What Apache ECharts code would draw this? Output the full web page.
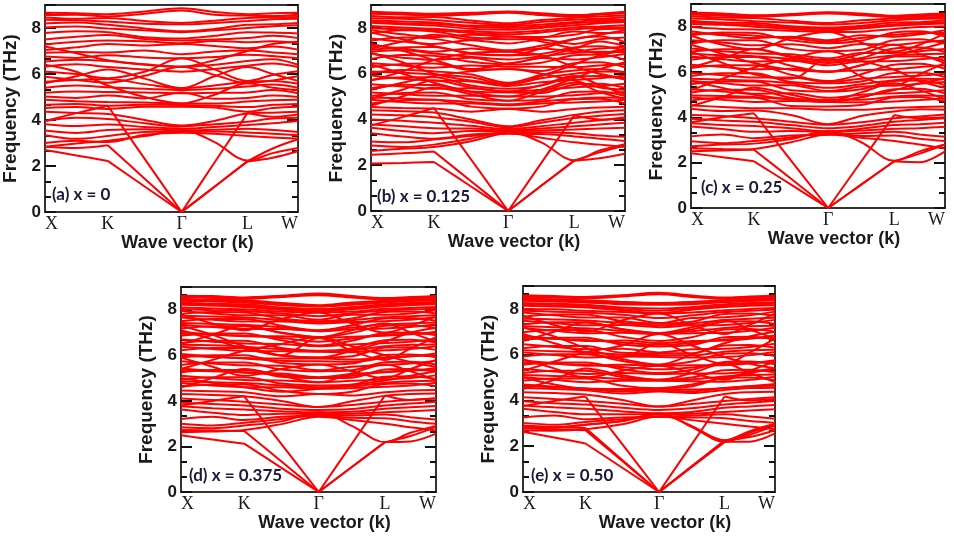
<!DOCTYPE html>
<html>
<head>
<meta charset="utf-8">
<script src="https://cdn.jsdelivr.net/npm/echarts@6/dist/echarts.min.js"></script>
<style>
  html, body { margin: 0; padding: 0; background: #fff; }
  #chart { width: 954px; height: 545px; }
</style>
</head>
<body>
<div id="chart"></div>
<script>
// k-path sample points: X, X-K, K, K-G, G, G-L, L, L-W, W
const kPath = [0, 0.124, 0.248, 0.394, 0.54, 0.67, 0.80, 0.90, 1.0];
// indices of the four path segments X-K, K-G, G-L, L-W
const pathSegments = [[0, 1, 2], [2, 3, 4], [4, 5, 6], [6, 7, 8]];
const kTickPos = [0, 0.248, 0.54, 0.80, 1.0];
const kTickLabels = ['X', 'K', 'Γ', 'L', 'W'];
const panelLabels = ['(a) x = 0', '(b) x = 0.125', '(c) x = 0.25', '(d) x = 0.375', '(e) x = 0.50'];

// phonon branches (THz)
const bandsA = [
  [8.66, 8.64, 8.60, 8.72, 8.86, 8.70, 8.60, 8.64, 8.66],
  [8.56, 8.58, 8.50, 8.62, 8.76, 8.58, 8.54, 8.52, 8.58],
  [8.46, 8.40, 8.44, 8.30, 8.22, 8.32, 8.44, 8.46, 8.48],
  [8.36, 8.34, 8.28, 8.18, 8.16, 8.22, 8.30, 8.38, 8.40],
  [8.20, 8.24, 8.14, 7.98, 7.86, 7.96, 8.14, 8.16, 8.22],
  [8.02, 8.06, 7.98, 7.90, 7.82, 7.90, 8.00, 8.08, 8.12],
  [7.78, 7.86, 7.82, 7.60, 7.54, 7.66, 7.82, 7.80, 7.76],
  [7.50, 7.62, 7.70, 7.52, 7.46, 7.50, 7.56, 7.66, 7.56],
  [7.28, 7.40, 7.46, 7.42, 7.34, 7.44, 7.38, 7.42, 7.34],
  [7.04, 7.16, 7.30, 7.24, 7.30, 7.22, 7.12, 7.20, 7.06],
  [6.92, 6.96, 6.94, 7.02, 6.86, 6.98, 7.02, 6.94, 6.86],
  [6.76, 6.70, 6.82, 6.72, 6.68, 6.74, 6.84, 6.78, 6.68],
  [6.54, 6.62, 6.56, 6.42, 6.32, 6.40, 6.56, 6.64, 6.40],
  [6.32, 6.42, 6.30, 6.20, 6.10, 6.22, 6.36, 6.46, 6.30],
  [6.10, 6.00, 5.82, 6.10, 6.68, 6.20, 5.70, 5.96, 6.12],
  [5.88, 5.74, 5.62, 5.92, 6.32, 5.96, 5.60, 5.72, 5.90],
  [5.66, 5.74, 5.78, 5.56, 5.38, 5.50, 5.66, 5.70, 5.58],
  [5.40, 5.50, 5.42, 5.36, 5.30, 5.36, 5.46, 5.54, 5.40],
  [5.18, 5.24, 5.22, 5.20, 5.16, 5.18, 5.20, 5.30, 5.16],
  [5.02, 4.96, 5.06, 4.94, 5.20, 4.92, 4.96, 5.06, 5.00],
  [4.88, 4.82, 4.78, 4.76, 4.72, 4.72, 4.80, 4.86, 4.88],
  [4.66, 4.70, 4.62, 4.66, 4.65, 4.62, 4.56, 4.66, 4.70],
  [4.52, 4.56, 4.48, 4.58, 4.58, 4.54, 4.36, 4.52, 4.58],
  [4.36, 4.30, 4.26, 4.00, 3.76, 3.96, 4.28, 4.32, 4.36],
  [7.20, 6.90, 6.60, 6.40, 6.32, 6.60, 7.00, 7.30, 7.40],
  [5.60, 5.90, 6.20, 5.80, 5.38, 5.90, 6.30, 6.00, 5.70],
  [6.40, 6.10, 5.50, 5.00, 4.72, 5.10, 5.60, 5.40, 5.30],
  [3.96, 4.10, 4.04, 3.86, 3.72, 3.82, 3.92, 4.06, 4.10],
  [3.82, 3.74, 3.80, 3.70, 3.62, 3.70, 3.78, 3.86, 3.96],
  [3.54, 3.44, 3.56, 3.60, 3.55, 3.58, 3.62, 3.56, 3.48],
  [3.34, 3.18, 3.30, 3.48, 3.50, 3.50, 3.46, 3.40, 3.34],
  [3.00, 3.10, 3.04, 3.36, 3.45, 3.40, 3.30, 3.24, 3.20],
  [2.84, 2.98, 3.10, 3.30, 3.56, 3.04, 2.24, 2.56, 2.78],
  [2.70, 2.46, 2.22, 1.11, 0.00, 1.10, 2.20, 2.36, 2.64],
  [2.84, 2.78, 2.90, 1.45, 0.00, 1.10, 2.20, 2.76, 3.16],
  [3.96, 4.30, 4.62, 2.31, 0.00, 2.15, 4.30, 4.14, 4.24]
];

const bandsB = [
  [8.70, 8.66, 8.62, 8.66, 8.72, 8.64, 8.56, 8.62, 8.70],
  [8.66, 8.62, 8.58, 8.62, 8.69, 8.60, 8.53, 8.60, 8.67],
  [8.62, 8.58, 8.54, 8.58, 8.66, 8.56, 8.50, 8.58, 8.64],
  [8.52, 8.46, 8.48, 8.32, 8.20, 8.34, 8.44, 8.50, 8.54],
  [8.42, 8.40, 8.34, 8.22, 8.14, 8.26, 8.36, 8.40, 8.46],
  [8.32, 8.28, 8.24, 8.10, 8.08, 8.14, 8.26, 8.34, 8.36],
  [8.28, 8.20, 8.18, 8.05, 8.00, 8.06, 8.20, 8.26, 8.30],
  [8.22, 8.16, 8.10, 7.96, 7.92, 8.00, 8.12, 8.20, 8.26],
  [8.08, 8.02, 7.96, 7.86, 7.80, 7.88, 8.02, 8.06, 8.12],
  [7.98, 7.94, 7.90, 7.78, 7.72, 7.80, 7.94, 8.00, 8.02],
  [7.90, 7.72, 7.60, 7.70, 7.62, 7.60, 7.70, 7.94, 7.96],
  [7.76, 7.90, 7.84, 7.58, 7.50, 7.56, 7.84, 7.78, 7.80],
  [7.54, 7.40, 7.30, 7.46, 7.32, 7.48, 7.30, 7.50, 7.58],
  [7.44, 7.58, 7.52, 7.24, 7.02, 7.22, 7.52, 7.62, 7.38],
  [7.22, 7.10, 6.96, 7.10, 6.96, 7.10, 6.98, 7.10, 7.18],
  [7.04, 7.14, 7.16, 6.86, 6.80, 6.86, 7.14, 7.20, 7.00],
  [6.96, 7.02, 6.88, 6.74, 6.62, 6.76, 6.90, 6.96, 6.94],
  [6.88, 6.70, 6.60, 6.70, 6.44, 6.68, 6.62, 6.72, 6.86],
  [6.64, 6.82, 6.78, 6.52, 6.40, 6.48, 6.80, 6.84, 6.60],
  [6.46, 6.36, 6.26, 6.36, 6.30, 6.30, 6.28, 6.36, 6.42],
  [6.28, 6.42, 6.44, 6.16, 6.20, 6.12, 6.46, 6.50, 6.28],
  [6.10, 6.04, 5.96, 5.84, 5.54, 5.80, 6.00, 6.10, 6.08],
  [6.02, 6.16, 6.10, 5.96, 5.60, 5.94, 6.14, 6.20, 6.04],
  [5.92, 5.78, 5.70, 5.66, 5.46, 5.62, 5.72, 5.80, 5.92],
  [5.72, 5.84, 5.84, 5.48, 5.34, 5.48, 5.86, 5.90, 5.74],
  [5.54, 5.44, 5.34, 5.36, 5.22, 5.30, 5.40, 5.46, 5.56],
  [5.36, 5.52, 5.50, 5.22, 5.18, 5.16, 5.52, 5.56, 5.38],
  [5.18, 5.10, 5.04, 5.04, 5.00, 5.00, 5.06, 5.14, 5.20],
  [5.02, 5.16, 5.18, 4.88, 4.82, 4.86, 5.20, 5.22, 5.02],
  [4.96, 4.92, 4.86, 4.76, 4.66, 4.78, 4.90, 4.96, 4.94],
  [4.86, 4.76, 4.70, 4.70, 4.62, 4.70, 4.74, 4.78, 4.86],
  [4.70, 4.84, 4.86, 4.56, 4.48, 4.56, 4.88, 4.90, 4.70],
  [4.54, 4.50, 4.48, 4.34, 4.46, 4.34, 4.46, 4.52, 4.56],
  [4.40, 4.36, 4.30, 4.00, 3.70, 3.96, 4.20, 4.34, 4.40],
  [4.22, 4.18, 4.10, 3.90, 3.66, 3.86, 4.06, 4.16, 4.24],
  [7.30, 7.00, 6.60, 6.20, 6.44, 6.70, 7.10, 7.40, 7.20],
  [5.30, 5.60, 5.90, 6.10, 6.20, 6.00, 5.70, 5.40, 5.30],
  [4.60, 5.00, 5.40, 5.10, 4.82, 5.20, 5.60, 5.20, 4.90],
  [6.90, 6.50, 6.00, 5.70, 5.54, 5.90, 6.40, 6.80, 7.00],
  [5.70, 6.10, 6.60, 6.90, 6.96, 6.80, 6.30, 6.00, 5.80],
  [7.80, 7.50, 7.20, 6.90, 6.80, 7.10, 7.50, 7.70, 7.90],
  [4.90, 5.30, 5.70, 5.40, 5.22, 5.50, 5.90, 5.50, 5.10],
  [6.40, 6.00, 5.60, 5.20, 5.00, 5.30, 5.80, 6.20, 6.50],
  [7.10, 7.40, 7.70, 7.50, 7.62, 7.40, 7.10, 6.90, 7.10],
  [4.00, 3.94, 3.86, 3.72, 3.58, 3.70, 3.86, 3.96, 4.04],
  [3.78, 3.70, 3.62, 3.60, 3.52, 3.60, 3.70, 3.78, 3.86],
  [3.64, 3.50, 3.40, 3.50, 3.48, 3.52, 3.56, 3.60, 3.64],
  [3.40, 3.26, 3.16, 3.34, 3.42, 3.44, 3.40, 3.30, 3.24],
  [3.04, 3.00, 3.12, 3.28, 3.38, 3.36, 3.26, 3.16, 3.06],
  [2.86, 2.80, 2.90, 3.16, 3.46, 3.00, 2.22, 2.64, 2.92],
  [2.62, 2.72, 2.80, 3.05, 3.40, 3.20, 3.00, 2.90, 2.80],
  [2.08, 2.10, 2.14, 1.07, 0.00, 1.10, 2.20, 2.30, 2.50],
  [2.46, 2.52, 2.60, 1.30, 0.00, 1.10, 2.20, 2.56, 2.86],
  [3.74, 4.10, 4.50, 2.25, 0.00, 2.09, 4.18, 4.00, 4.10]
];

const bandsC = [
  [8.62, 8.58, 8.50, 8.56, 8.64, 8.58, 8.48, 8.54, 8.58],
  [8.58, 8.54, 8.48, 8.52, 8.61, 8.54, 8.45, 8.50, 8.55],
  [8.54, 8.48, 8.44, 8.50, 8.58, 8.50, 8.42, 8.46, 8.52],
  [8.46, 8.40, 8.38, 8.26, 8.16, 8.28, 8.36, 8.40, 8.44],
  [8.36, 8.32, 8.24, 8.18, 8.10, 8.16, 8.28, 8.34, 8.36],
  [8.26, 8.18, 8.16, 8.02, 7.96, 8.04, 8.18, 8.20, 8.28],
  [8.19, 8.12, 8.08, 7.96, 7.90, 7.98, 8.10, 8.15, 8.20],
  [8.12, 8.08, 8.00, 7.90, 7.82, 7.92, 8.04, 8.10, 8.14],
  [7.98, 7.90, 7.88, 7.82, 7.76, 7.78, 7.90, 7.98, 8.02],
  [7.80, 7.62, 7.50, 7.56, 7.40, 7.62, 7.56, 7.66, 7.84],
  [7.70, 7.68, 7.60, 7.50, 7.34, 7.50, 7.64, 7.72, 7.72],
  [7.62, 7.74, 7.72, 7.40, 7.27, 7.38, 7.74, 7.80, 7.56],
  [7.40, 7.30, 7.18, 7.22, 7.05, 7.24, 7.20, 7.30, 7.40],
  [7.26, 7.40, 7.40, 7.02, 6.92, 6.98, 7.40, 7.44, 7.24],
  [7.04, 6.92, 6.82, 6.78, 6.60, 6.84, 6.84, 6.92, 7.02],
  [6.90, 7.00, 7.02, 6.66, 6.50, 6.62, 7.04, 7.08, 6.88],
  [6.80, 6.74, 6.70, 6.58, 6.40, 6.56, 6.74, 6.78, 6.80],
  [6.68, 6.56, 6.46, 6.50, 6.30, 6.46, 6.48, 6.56, 6.64],
  [6.54, 6.66, 6.66, 6.28, 6.00, 6.30, 6.68, 6.70, 6.50],
  [6.32, 6.22, 6.12, 6.14, 6.02, 6.08, 6.12, 6.22, 6.30],
  [6.18, 6.30, 6.30, 5.88, 5.60, 5.90, 6.32, 6.36, 6.14],
  [5.96, 5.86, 5.76, 5.76, 5.56, 5.70, 5.78, 5.84, 5.92],
  [5.82, 5.94, 5.94, 5.56, 5.50, 5.58, 5.96, 5.98, 5.78],
  [5.70, 5.66, 5.62, 5.50, 5.30, 5.46, 5.64, 5.70, 5.68],
  [5.60, 5.50, 5.40, 5.42, 5.16, 5.36, 5.40, 5.48, 5.56],
  [5.46, 5.58, 5.58, 5.20, 5.14, 5.24, 5.60, 5.62, 5.42],
  [5.24, 5.14, 5.04, 5.06, 4.86, 5.00, 5.06, 5.12, 5.20],
  [5.10, 5.22, 5.22, 4.86, 4.72, 4.88, 5.24, 5.26, 5.06],
  [4.96, 4.94, 4.90, 4.80, 4.78, 4.78, 4.92, 4.96, 4.94],
  [4.88, 4.78, 4.68, 4.72, 4.68, 4.66, 4.70, 4.76, 4.84],
  [4.74, 4.86, 4.86, 4.50, 4.48, 4.54, 4.88, 4.90, 4.70],
  [4.52, 4.46, 4.40, 4.40, 4.34, 4.34, 4.42, 4.46, 4.48],
  [4.38, 4.28, 4.30, 4.10, 3.70, 4.06, 4.26, 4.36, 4.34],
  [6.90, 6.40, 5.90, 5.70, 6.60, 5.80, 5.40, 5.90, 6.40],
  [5.20, 5.70, 6.20, 6.60, 6.92, 6.50, 6.10, 5.60, 5.30],
  [4.50, 4.90, 5.30, 5.00, 4.72, 5.10, 5.50, 5.20, 4.80],
  [7.60, 7.20, 7.00, 7.50, 7.76, 7.30, 6.90, 7.20, 7.70],
  [6.20, 6.60, 7.00, 6.70, 6.50, 6.80, 7.20, 6.80, 6.40],
  [7.20, 6.80, 6.40, 6.10, 6.02, 6.30, 6.70, 7.00, 7.30],
  [5.60, 5.30, 5.00, 4.80, 4.68, 4.90, 5.20, 5.50, 5.70],
  [4.10, 4.06, 3.96, 3.80, 3.67, 3.78, 3.96, 4.04, 4.12],
  [3.94, 3.86, 3.80, 3.66, 3.52, 3.62, 3.80, 3.88, 3.96],
  [3.74, 3.66, 3.62, 3.52, 3.38, 3.50, 3.66, 3.70, 3.76],
  [3.60, 3.48, 3.36, 3.40, 3.36, 3.42, 3.50, 3.52, 3.58],
  [3.16, 3.24, 3.08, 3.20, 3.23, 3.30, 3.36, 3.24, 3.14],
  [2.94, 2.86, 2.96, 3.12, 3.30, 3.18, 3.20, 3.06, 2.96],
  [2.72, 2.80, 2.84, 3.04, 3.40, 2.90, 2.08, 2.50, 2.80],
  [2.50, 2.54, 2.60, 2.90, 3.24, 3.10, 2.96, 2.80, 2.62],
  [2.42, 2.24, 2.06, 1.03, 0.00, 1.03, 2.06, 2.02, 2.50],
  [2.64, 2.60, 2.57, 1.29, 0.00, 1.03, 2.06, 2.40, 2.80],
  [3.78, 4.00, 4.18, 2.09, 0.00, 2.05, 4.10, 3.96, 4.00]
];

const bandsD = [
  [8.62, 8.60, 8.54, 8.62, 8.72, 8.60, 8.52, 8.56, 8.60],
  [8.59, 8.56, 8.51, 8.59, 8.68, 8.57, 8.49, 8.53, 8.57],
  [8.56, 8.52, 8.48, 8.56, 8.64, 8.54, 8.46, 8.50, 8.54],
  [8.48, 8.44, 8.42, 8.30, 8.20, 8.32, 8.40, 8.44, 8.48],
  [8.44, 8.40, 8.37, 8.25, 8.17, 8.27, 8.36, 8.41, 8.45],
  [8.40, 8.36, 8.32, 8.20, 8.14, 8.22, 8.32, 8.38, 8.42],
  [8.32, 8.26, 8.24, 8.10, 8.04, 8.12, 8.24, 8.30, 8.34],
  [8.27, 8.22, 8.18, 8.05, 7.98, 8.07, 8.19, 8.25, 8.29],
  [8.22, 8.18, 8.12, 8.00, 7.92, 8.02, 8.14, 8.20, 8.24],
  [8.10, 8.06, 8.02, 7.92, 7.88, 7.92, 8.04, 8.08, 8.12],
  [8.03, 7.98, 7.95, 7.84, 7.72, 7.85, 7.97, 8.01, 8.05],
  [7.96, 7.84, 7.76, 7.76, 7.56, 7.78, 7.78, 7.84, 7.98],
  [7.82, 7.90, 7.88, 7.62, 7.50, 7.62, 7.90, 7.92, 7.84],
  [7.74, 7.70, 7.66, 7.55, 7.45, 7.54, 7.67, 7.72, 7.76],
  [7.66, 7.56, 7.48, 7.48, 7.40, 7.46, 7.50, 7.56, 7.68],
  [7.50, 7.60, 7.60, 7.30, 7.10, 7.32, 7.62, 7.64, 7.52],
  [7.42, 7.38, 7.34, 7.23, 7.08, 7.22, 7.36, 7.40, 7.44],
  [7.34, 7.24, 7.16, 7.16, 7.06, 7.14, 7.18, 7.24, 7.36],
  [7.18, 7.28, 7.28, 6.98, 6.80, 6.98, 7.30, 7.32, 7.20],
  [7.02, 6.92, 6.84, 6.84, 6.76, 6.82, 6.86, 6.92, 7.04],
  [6.94, 6.90, 6.86, 6.76, 6.60, 6.74, 6.90, 6.94, 6.96],
  [6.86, 6.96, 6.96, 6.66, 6.43, 6.64, 6.98, 7.00, 6.88],
  [6.70, 6.60, 6.52, 6.50, 6.40, 6.48, 6.54, 6.60, 6.72],
  [6.54, 6.64, 6.64, 6.32, 6.20, 6.30, 6.66, 6.68, 6.56],
  [6.46, 6.44, 6.38, 6.26, 6.18, 6.22, 6.40, 6.46, 6.48],
  [6.38, 6.28, 6.20, 6.18, 6.16, 6.14, 6.22, 6.28, 6.40],
  [6.22, 6.32, 6.32, 5.98, 5.90, 5.96, 6.34, 6.36, 6.24],
  [6.06, 5.96, 5.88, 5.86, 5.86, 5.82, 5.90, 5.96, 6.08],
  [5.98, 5.92, 5.86, 5.76, 5.74, 5.72, 5.88, 5.96, 6.00],
  [5.90, 6.00, 6.00, 5.66, 5.60, 5.64, 6.02, 6.04, 5.92],
  [5.74, 5.64, 5.56, 5.54, 5.34, 5.50, 5.58, 5.64, 5.76],
  [5.58, 5.68, 5.68, 5.38, 5.30, 5.34, 5.70, 5.72, 5.60],
  [5.42, 5.32, 5.24, 5.20, 5.04, 5.18, 5.26, 5.32, 5.44],
  [5.34, 5.30, 5.26, 5.14, 5.02, 5.10, 5.28, 5.34, 5.36],
  [5.26, 5.36, 5.36, 5.06, 5.00, 5.02, 5.38, 5.40, 5.28],
  [5.10, 5.00, 4.92, 4.90, 4.82, 4.88, 4.94, 5.00, 5.12],
  [4.94, 5.04, 5.04, 4.76, 4.68, 4.72, 5.06, 5.08, 4.96],
  [4.86, 4.82, 4.78, 4.68, 4.60, 4.64, 4.80, 4.86, 4.88],
  [4.78, 4.68, 4.60, 4.60, 4.53, 4.56, 4.62, 4.68, 4.80],
  [4.62, 4.72, 4.72, 4.44, 4.30, 4.40, 4.74, 4.76, 4.64],
  [4.46, 4.42, 4.38, 4.20, 4.30, 4.24, 4.38, 4.46, 4.48],
  [4.30, 4.26, 4.20, 4.00, 3.73, 3.98, 4.22, 4.30, 4.32],
  [7.30, 6.90, 6.40, 6.00, 6.76, 6.20, 5.80, 6.30, 6.80],
  [5.40, 5.80, 6.20, 6.50, 6.80, 6.40, 6.00, 5.70, 5.50],
  [4.60, 5.00, 5.40, 5.10, 4.82, 5.20, 5.60, 5.30, 4.90],
  [7.80, 7.40, 7.10, 7.60, 7.88, 7.40, 7.00, 7.30, 7.70],
  [5.00, 4.80, 4.60, 4.40, 4.53, 4.70, 4.90, 5.10, 5.30],
  [6.50, 6.90, 7.30, 7.00, 6.80, 7.10, 7.40, 7.00, 6.60],
  [7.10, 6.70, 6.30, 6.00, 5.90, 6.20, 6.60, 7.00, 7.20],
  [5.90, 5.50, 5.10, 5.40, 5.60, 5.30, 5.00, 5.40, 5.80],
  [4.10, 4.04, 3.96, 3.84, 3.73, 3.82, 3.96, 4.04, 4.12],
  [3.92, 3.86, 3.80, 3.66, 3.60, 3.64, 3.80, 3.88, 3.96],
  [3.76, 3.68, 3.62, 3.54, 3.50, 3.52, 3.66, 3.72, 3.78],
  [3.62, 3.48, 3.38, 3.44, 3.42, 3.44, 3.50, 3.54, 3.60],
  [3.20, 3.30, 3.16, 3.30, 3.36, 3.36, 3.40, 3.28, 3.18],
  [3.00, 2.92, 3.04, 3.20, 3.36, 3.26, 3.24, 3.10, 3.00],
  [2.84, 2.80, 2.92, 3.10, 3.50, 2.90, 2.19, 2.60, 2.90],
  [2.62, 2.66, 2.72, 2.98, 3.30, 3.16, 3.00, 2.84, 2.70],
  [2.49, 2.30, 2.12, 1.06, 0.00, 1.10, 2.19, 2.22, 2.56],
  [2.72, 2.70, 2.68, 1.34, 0.00, 1.10, 2.19, 2.46, 2.86],
  [3.80, 4.00, 4.20, 2.10, 0.00, 2.12, 4.24, 4.04, 4.10]
];

const bandsE = [
  [8.60, 8.56, 8.52, 8.60, 8.70, 8.58, 8.50, 8.54, 8.58],
  [8.56, 8.53, 8.49, 8.57, 8.67, 8.55, 8.47, 8.51, 8.55],
  [8.52, 8.50, 8.46, 8.54, 8.64, 8.52, 8.44, 8.48, 8.52],
  [8.44, 8.42, 8.38, 8.30, 8.26, 8.30, 8.38, 8.42, 8.46],
  [8.40, 8.37, 8.33, 8.25, 8.22, 8.25, 8.34, 8.38, 8.42],
  [8.36, 8.32, 8.28, 8.20, 8.18, 8.20, 8.30, 8.34, 8.38],
  [8.26, 8.22, 8.18, 8.06, 8.02, 8.08, 8.20, 8.26, 8.28],
  [8.20, 8.16, 8.12, 8.00, 7.92, 8.02, 8.14, 8.20, 8.22],
  [8.14, 8.10, 8.06, 7.94, 7.82, 7.96, 8.08, 8.14, 8.16],
  [8.00, 7.98, 7.92, 7.86, 7.80, 7.84, 7.94, 8.00, 8.04],
  [7.92, 7.88, 7.84, 7.74, 7.60, 7.72, 7.86, 7.92, 7.96],
  [7.84, 7.72, 7.62, 7.62, 7.38, 7.60, 7.64, 7.72, 7.88],
  [7.66, 7.76, 7.76, 7.46, 7.36, 7.44, 7.78, 7.80, 7.70],
  [7.57, 7.54, 7.49, 7.38, 7.28, 7.36, 7.51, 7.57, 7.61],
  [7.48, 7.38, 7.28, 7.30, 7.20, 7.28, 7.30, 7.38, 7.52],
  [7.32, 7.42, 7.42, 7.12, 6.94, 7.10, 7.44, 7.46, 7.34],
  [7.24, 7.20, 7.15, 7.04, 6.92, 7.02, 7.17, 7.24, 7.26],
  [7.16, 7.04, 6.94, 6.96, 6.90, 6.94, 6.96, 7.04, 7.18],
  [6.98, 7.08, 7.08, 6.78, 6.60, 6.76, 7.10, 7.12, 7.00],
  [6.82, 6.70, 6.60, 6.62, 6.50, 6.60, 6.62, 6.70, 6.84],
  [6.73, 6.69, 6.64, 6.53, 6.43, 6.51, 6.66, 6.73, 6.75],
  [6.64, 6.74, 6.74, 6.44, 6.36, 6.42, 6.76, 6.78, 6.66],
  [6.46, 6.34, 6.24, 6.26, 6.10, 6.24, 6.26, 6.34, 6.48],
  [6.28, 6.38, 6.38, 6.08, 6.06, 6.06, 6.40, 6.42, 6.30],
  [6.19, 6.15, 6.11, 6.00, 5.98, 5.97, 6.13, 6.19, 6.21],
  [6.10, 5.98, 5.88, 5.92, 5.90, 5.88, 5.90, 5.98, 6.12],
  [5.92, 6.02, 6.02, 5.72, 5.56, 5.70, 6.04, 6.06, 5.94],
  [5.74, 5.62, 5.52, 5.56, 5.52, 5.54, 5.54, 5.62, 5.76],
  [5.65, 5.60, 5.56, 5.46, 5.36, 5.44, 5.59, 5.65, 5.67],
  [5.56, 5.66, 5.66, 5.36, 5.20, 5.34, 5.68, 5.70, 5.58],
  [5.38, 5.26, 5.16, 5.20, 5.16, 5.18, 5.18, 5.26, 5.40],
  [5.20, 5.30, 5.30, 5.02, 4.90, 5.00, 5.32, 5.34, 5.22],
  [5.11, 5.07, 5.02, 4.94, 4.88, 4.92, 5.05, 5.11, 5.13],
  [5.02, 4.90, 4.80, 4.86, 4.86, 4.84, 4.82, 4.90, 5.04],
  [4.86, 4.96, 4.96, 4.64, 4.53, 4.62, 4.98, 5.00, 4.88],
  [4.70, 4.60, 4.52, 4.50, 4.50, 4.48, 4.54, 4.62, 4.72],
  [4.62, 4.58, 4.52, 4.40, 4.45, 4.40, 4.54, 4.62, 4.64],
  [4.54, 4.50, 4.44, 4.30, 4.39, 4.32, 4.46, 4.54, 4.56],
  [4.36, 4.32, 4.26, 4.02, 3.73, 4.00, 4.28, 4.36, 4.38],
  [7.20, 6.80, 6.30, 5.90, 6.50, 6.00, 5.60, 6.10, 6.70],
  [5.30, 5.70, 6.10, 6.40, 6.90, 6.40, 5.90, 5.60, 5.40],
  [4.50, 4.90, 5.40, 5.10, 4.90, 5.20, 5.60, 5.20, 4.80],
  [7.70, 7.30, 7.00, 7.50, 7.80, 7.30, 6.90, 7.30, 7.80],
  [5.00, 4.70, 4.50, 4.40, 4.53, 4.70, 5.00, 5.20, 5.40],
  [6.60, 7.00, 7.40, 7.10, 6.94, 7.20, 7.50, 7.10, 6.70],
  [6.90, 6.50, 6.10, 5.80, 5.56, 6.00, 6.50, 6.80, 7.00],
  [5.80, 5.40, 5.00, 5.30, 5.52, 5.20, 4.90, 5.30, 5.70],
  [4.14, 4.06, 3.98, 3.86, 3.73, 3.84, 3.98, 4.06, 4.14],
  [3.96, 3.88, 3.82, 3.68, 3.58, 3.66, 3.82, 3.90, 3.98],
  [3.78, 3.70, 3.64, 3.52, 3.44, 3.50, 3.68, 3.74, 3.80],
  [3.64, 3.50, 3.40, 3.40, 3.40, 3.42, 3.50, 3.56, 3.62],
  [3.26, 3.34, 3.18, 3.26, 3.29, 3.34, 3.40, 3.30, 3.20],
  [3.02, 2.94, 3.06, 3.18, 3.30, 3.26, 3.22, 3.10, 3.02],
  [2.86, 2.82, 2.94, 3.10, 3.44, 2.84, 2.19, 2.60, 2.92],
  [2.86, 2.82, 2.94, 3.10, 3.40, 2.88, 2.26, 2.66, 2.98],
  [2.70, 2.68, 2.74, 2.96, 3.30, 3.14, 2.98, 2.86, 2.74],
  [2.63, 2.38, 2.12, 1.06, 0.00, 1.10, 2.19, 2.20, 2.56],
  [2.78, 2.74, 2.70, 1.35, 0.00, 1.13, 2.26, 2.40, 2.70],
  [2.90, 2.84, 2.80, 1.40, 0.00, 1.10, 2.19, 2.50, 2.90],
  [3.76, 3.98, 4.17, 2.09, 0.00, 2.09, 4.17, 4.00, 4.06]
];

const allBands = [bandsA, bandsB, bandsC, bandsD, bandsE];

// layout of the five panels (pixels)
const gridBoxes = [
  { left: 44, top: 5, width: 254, height: 207 },
  { left: 371, top: 5, width: 254, height: 206 },
  { left: 691, top: 4, width: 254, height: 204 },
  { left: 181, top: 287, width: 255, height: 205 },
  { left: 523, top: 286, width: 252, height: 206 }
];
const labelSpots = [[52, 186], [377, 188], [701, 179], [189, 467], [531, 467]];

const INK = '#1a1a1a';
const boldSans = 'Liberation Sans, Arial, sans-serif';

const chart = echarts.init(document.getElementById('chart'), null, { renderer: 'canvas' });

const grid = gridBoxes.map(b => ({
  ...b, show: true, borderColor: '#333', borderWidth: 2, backgroundColor: 'transparent'
}));

const xAxis = gridBoxes.map((b, i) => ({
  gridIndex: i,
  type: 'value',
  min: 0,
  max: 1,
  axisLine: { show: true, lineStyle: { color: '#333', width: 2 } },
  axisTick: { show: false },
  splitLine: { show: false },
  axisLabel: {
    customValues: kTickPos,
    formatter: v => kTickLabels[kTickPos.indexOf(v)] || '',
    fontFamily: 'Liberation Serif, Times New Roman, serif',
    fontSize: 18,
    color: INK,
    margin: 3,
    alignMinLabel: 'left',
    alignMaxLabel: 'right'
  },
  name: 'Wave vector (k)',
  nameLocation: 'middle',
  nameGap: 19,
  nameTextStyle: {
    fontFamily: boldSans, fontWeight: 'bold', fontSize: 18, color: INK,
    padding: [0, 0, 0, 32]
  }
}));

const tickCommon = {
  axisTick: { show: true, inside: true, length: 11, lineStyle: { color: '#111', width: 2 } },
  minorTick: { show: true, splitNumber: 3, length: 6, lineStyle: { color: '#111', width: 2 } },
  splitLine: { show: false },
  minorSplitLine: { show: false }
};

const yAxis = [];
gridBoxes.forEach((b, i) => {
  yAxis.push({
    gridIndex: i,
    type: 'value',
    min: 0,
    max: 9,
    interval: 2,
    position: 'left',
    axisLine: { show: true, lineStyle: { color: '#333', width: 2 } },
    ...tickCommon,
    axisLabel: {
      showMaxLabel: false,
      margin: 4,
      fontFamily: boldSans, fontWeight: 'bold', fontSize: 17, color: INK
    },
    name: 'Frequency (THz)',
    nameLocation: 'middle',
    nameGap: 25,
    nameTextStyle: { fontFamily: boldSans, fontWeight: 'bold', fontSize: 19, color: INK }
  });
  yAxis.push({
    gridIndex: i,
    type: 'value',
    min: 0,
    max: 9,
    interval: 2,
    position: 'right',
    axisLine: { show: true, lineStyle: { color: '#333', width: 2 } },
    ...tickCommon,
    axisLabel: { show: false }
  });
});

// acoustic branches (zero at G) are drawn segment by segment so the cone at G stays straight
function branchPoints(band) {
  if (band[4] !== 0) return band.map((f, j) => [kPath[j], f]);
  const pts = [];
  pathSegments.forEach((seg, s) => {
    if (s > 0) pts.push([kPath[seg[0]], '-']);
    seg.forEach(j => pts.push([kPath[j], band[j]]));
  });
  return pts;
}

const series = [];
allBands.forEach((bands, p) => {
  bands.forEach(band => {
    series.push({
      type: 'line',
      xAxisIndex: p,
      yAxisIndex: p * 2,
      data: branchPoints(band),
      smooth: 0.35,
      connectNulls: false,
      showSymbol: false,
      silent: true,
      clip: true,
      lineStyle: { color: '#ff0000', width: 2 },
      animation: false
    });
  });
});

const graphic = panelLabels.map((t, i) => ({
  type: 'text',
  left: labelSpots[i][0],
  top: labelSpots[i][1],
  z: 100,
  style: {
    text: t,
    font: 'bold 17px Lato, "Open Sans", sans-serif',
    fill: '#1a1a3a'
  }
}));

chart.setOption({
  backgroundColor: '#fff',
  animation: false,
  grid,
  xAxis,
  yAxis,
  series,
  graphic
});
</script>
</body>
</html>
